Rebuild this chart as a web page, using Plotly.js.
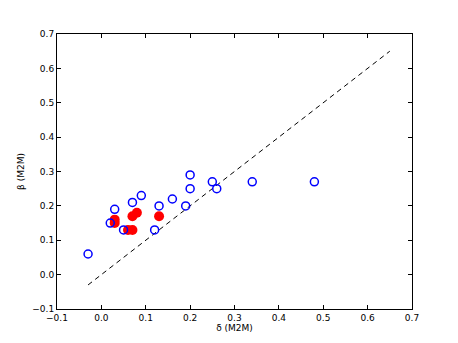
<!DOCTYPE html>
<html>
<head>
<meta charset="utf-8">
<script src="https://cdn.plot.ly/plotly-3.0.1.min.js"></script>
<style>
  body { margin: 0; background: #fff; }
  #graphDiv { width: 458px; height: 343px; }
</style>
</head>
<body>
<div id="graphDiv"></div>
<script>
// open blue circles
const blueX = [-0.03, 0.02, 0.03, 0.05, 0.07, 0.09, 0.12, 0.13, 0.16, 0.19, 0.20, 0.20, 0.25, 0.26, 0.34, 0.48];
const blueY = [0.06, 0.15, 0.19, 0.13, 0.21, 0.23, 0.13, 0.20, 0.22, 0.20, 0.29, 0.25, 0.27, 0.25, 0.27, 0.27];

// filled red points
const redX = [0.03, 0.03, 0.06, 0.07, 0.07, 0.08, 0.13];
const redY = [0.16, 0.15, 0.13, 0.13, 0.17, 0.18, 0.17];

// one-to-one reference line
const lineX = [-0.03, 0.65];
const lineY = [-0.03, 0.65];

const tickVals = [-0.1, 0.0, 0.1, 0.2, 0.3, 0.4, 0.5, 0.6, 0.7];
const tickText = ['\u22120.1', '0.0', '0.1', '0.2', '0.3', '0.4', '0.5', '0.6', '0.7'];

const graphDiv = document.getElementById('graphDiv');

const data = [
    { x: lineX, y: lineY, mode: 'lines', type: 'scatter',
      line: { color: 'black', width: 1, dash: '5px,4px' }, hoverinfo: 'skip' },
    { x: redX, y: redY, mode: 'markers', type: 'scatter',
      marker: { color: '#ff0000', size: 10, line: { color: '#ff0000', width: 0 } } },
    { x: blueX, y: blueY, mode: 'markers', type: 'scatter',
      marker: { symbol: 'circle-open', color: '#0000ff', size: 8, line: { width: 1.5 } } }
];

const axisBase = {
    range: [-0.1, 0.7], tickvals: tickVals, ticktext: tickText,
    ticks: 'inside', ticklen: 4, tickcolor: 'black', mirror: 'ticks',
    showline: true, linecolor: 'black', linewidth: 1,
    showgrid: false, zeroline: false,
    tickfont: { family: 'DejaVu Sans', size: 9, color: 'black' }
};

const layout = {
    width: 458, height: 343,
    margin: { l: 57, r: 46, t: 34, b: 34 },
    showlegend: false,
    paper_bgcolor: 'white', plot_bgcolor: 'white',
    xaxis: Object.assign({}, axisBase, {
        title: { text: '\u03b4 (M2M)', font: { family: 'DejaVu Sans', size: 9, color: 'black' }, standoff: 2 }
    }),
    yaxis: Object.assign({}, axisBase, {
        title: { text: '\u03b2 (M2M)', font: { family: 'DejaVu Sans', size: 9, color: 'black' }, standoff: 6 }
    })
};

Plotly.newPlot(graphDiv, data, layout, { staticPlot: true });
</script>
</body>
</html>
